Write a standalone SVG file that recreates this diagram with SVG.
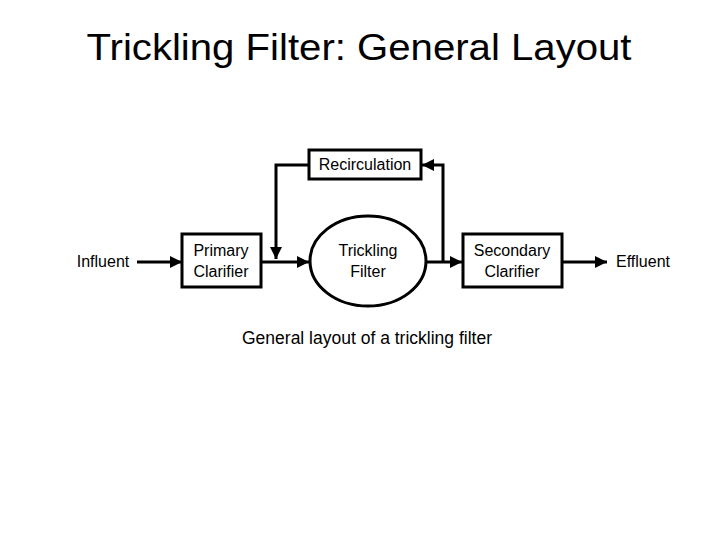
<svg xmlns="http://www.w3.org/2000/svg" width="720" height="540" viewBox="0 0 720 540">
<style>
text{font-family:"Liberation Sans","Open Sans",sans-serif;fill:#000}
.lbl{font-size:16px;text-anchor:middle}
.box{fill:#fff;stroke:#000;stroke-width:3}
.ln{fill:none;stroke:#000;stroke-width:3}
</style>
<defs>
<marker id="ah" viewBox="0 0 10 10" refX="10" refY="5" markerWidth="4" markerHeight="4" markerUnits="strokeWidth" orient="auto">
<path d="M0,0 L10,5 L0,10 z" fill="#000"/>
</marker>
</defs>
<rect width="720" height="540" fill="#fff"/>
<text x="359" y="60" font-size="37" text-anchor="middle" textLength="545" lengthAdjust="spacingAndGlyphs">Trickling Filter: General Layout</text>
<g id="connectors">
<line class="ln" x1="137" y1="262" x2="182" y2="262" marker-end="url(#ah)"/>
<line class="ln" x1="261" y1="262" x2="309" y2="262" marker-end="url(#ah)"/>
<polyline class="ln" points="309,165 276,165 276,259" marker-end="url(#ah)"/>
<line class="ln" x1="426" y1="262" x2="462" y2="262" marker-end="url(#ah)"/>
<polyline class="ln" points="443,262 443,165 422,165" marker-end="url(#ah)"/>
<line class="ln" x1="562" y1="262" x2="607" y2="262" marker-end="url(#ah)"/>
</g>
<g id="influent"><text class="lbl" x="103" y="267">Influent</text></g>
<g id="primary"><rect class="box" x="182" y="234" width="79" height="53"/><text class="lbl" x="221" y="256">Primary</text><text class="lbl" x="221" y="277">Clarifier</text></g>
<g id="recirculation"><rect class="box" x="309" y="150" width="112" height="29"/><text class="lbl" x="365" y="170">Recirculation</text></g>
<g id="filter"><ellipse class="box" cx="368" cy="261" rx="58" ry="45"/><text class="lbl" x="368" y="256">Trickling</text><text class="lbl" x="368" y="277">Filter</text></g>
<g id="secondary"><rect class="box" x="463" y="234" width="99" height="53"/><text class="lbl" x="512" y="256">Secondary</text><text class="lbl" x="512" y="277">Clarifier</text></g>
<g id="effluent"><text class="lbl" x="643" y="267">Effluent</text></g>
<text x="367" y="344" font-size="17.5" text-anchor="middle">General layout of a trickling filter</text>
</svg>
